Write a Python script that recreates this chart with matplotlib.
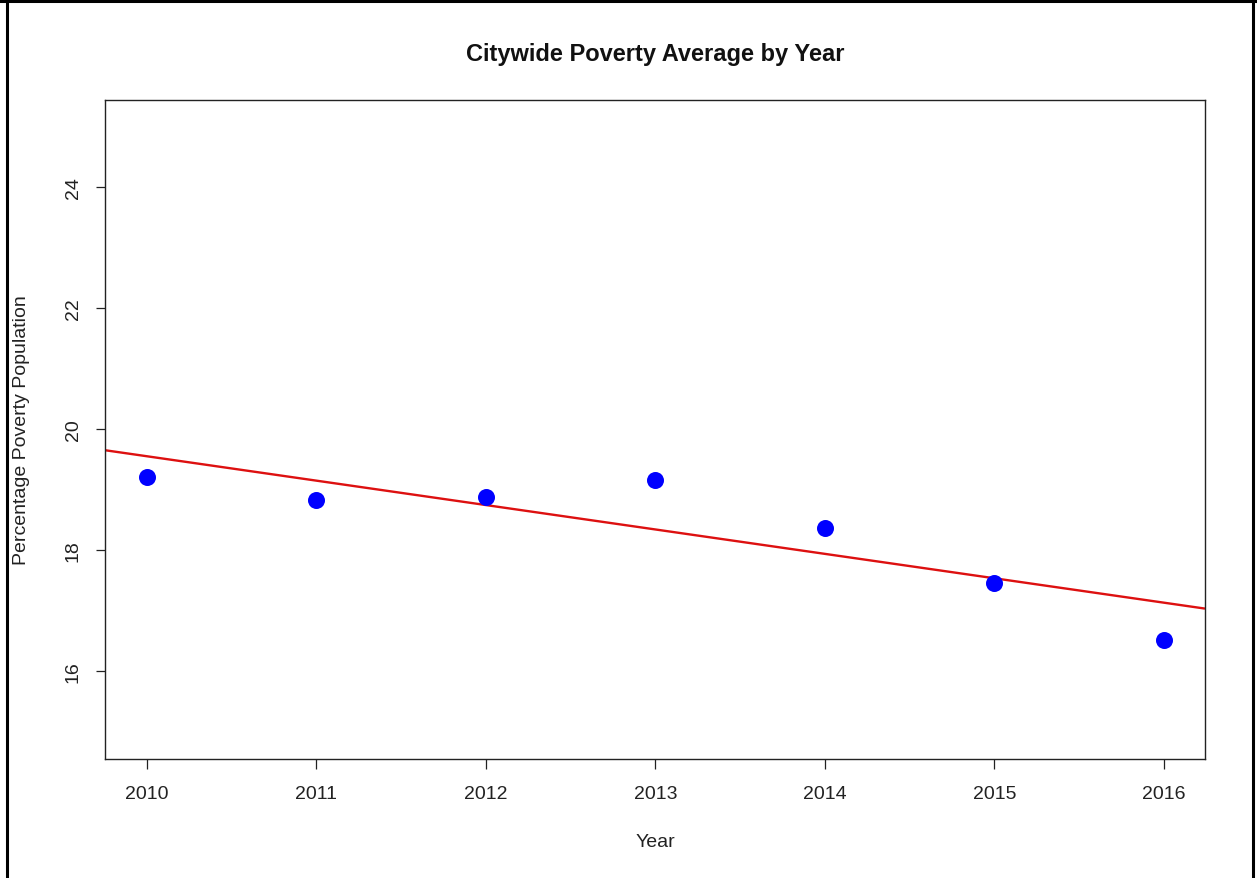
import numpy as np
import matplotlib
matplotlib.use("Agg")
import matplotlib.pyplot as plt
from matplotlib.lines import Line2D

plt.rcParams['font.family'] = ['Liberation Sans', 'DejaVu Sans']

# Citywide average share of population in poverty (%)
years = [2010, 2011, 2012, 2013, 2014, 2015, 2016]
poverty_pct = [19.20, 18.82, 18.88, 19.15, 18.36, 17.45, 16.52]
y_ticks = [16, 18, 20, 22, 24]

W, H = 1257, 879
fig = plt.figure(figsize=(W / 100, H / 100), dpi=100)
fig.patch.set_facecolor('white')

ax = fig.add_axes([105 / W, 1 - 760 / H, (1205 - 105) / W, (760 - 101) / H])
ax.set_xlim(2009.754, 2016.242)
ax.set_ylim(14.545, 25.44)

# Points and least-squares trend line
ax.scatter(years, poverty_pct, s=150, color='#0000ff', zorder=3, linewidths=0)
slope, intercept = np.polyfit(years, poverty_pct, 1)
xs = np.array(ax.get_xlim())
ax.plot(xs, intercept + slope * xs, color='#dd1010', lw=1.7, zorder=2,
        solid_capstyle='butt')

ax.set_xticks(years)
ax.set_xticklabels([str(y) for y in years])
ax.set_yticks(y_ticks)
ax.set_yticklabels([str(v) for v in y_ticks], rotation=90, va='center')

ax.tick_params(axis='both', direction='out', length=9.5 * 72 / 100,
               width=0.9, color='#222222', labelsize=14, labelcolor='#222222')
ax.tick_params(axis='x', pad=12)
ax.tick_params(axis='y', pad=10)

for sp in ax.spines.values():
    sp.set_color('#222222')
    sp.set_linewidth(1.0)

# Axis titles and main title placed in figure coordinates
fig.text(655 / W, 1 - 843 / H, 'Year', ha='center', va='center',
         fontsize=14, color='#222222')
fig.text(22 / W, 1 - 430 / H, 'Percentage Poverty Population', ha='center',
         va='center', rotation=90, fontsize=14, color='#222222')
fig.text(655 / W, 1 - 55 / H, 'Citywide Poverty Average by Year',
         ha='center', va='center', fontsize=17, fontweight='bold',
         color='#111111')

# Outer frame around the figure
for (x0, y0, x1, y1) in [(6.5, 0, 6.5, H), (0, 1.5, W, 1.5), (1252.5, 0, 1252.5, H)]:
    fig.add_artist(Line2D([x0 / W, x1 / W], [1 - y0 / H, 1 - y1 / H],
                          transform=fig.transFigure, color='black', lw=2.2))

fig.savefig('out.png', dpi=100, facecolor='white')
